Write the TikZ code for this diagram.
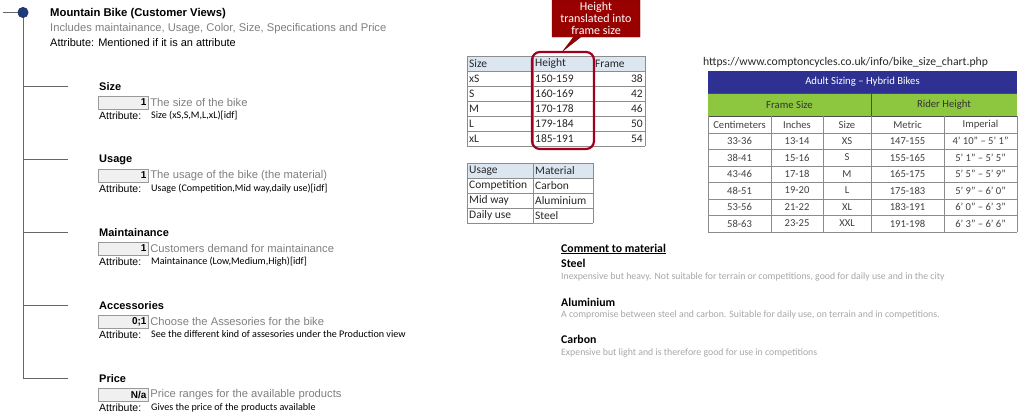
\documentclass[tikz,border=0pt]{standalone}
\usepackage{fontspec}
\setmainfont{Liberation Sans}
\newfontfamily\calfont{Carlito}
\usetikzlibrary{shapes.callouts}

\definecolor{rootblue}{HTML}{1F3A7A}
\definecolor{descgray}{HTML}{7F7F7F}
\definecolor{notegray}{HTML}{A6A6A6}
\definecolor{hdrblue}{HTML}{DCE6F1}
\definecolor{darkred}{HTML}{A0001E}
\definecolor{calloutred}{HTML}{990000}
\definecolor{chartblue}{HTML}{2E3192}
\definecolor{chartgreen}{HTML}{8DC63F}

\tikzset{
  every node/.style={inner sep=0pt},
  branch/.style={draw=black!60,line width=0.8pt},
  numbox/.style={draw=black!40,fill=black!6,minimum width=50pt,minimum height=12.5pt},
  desc/.style={anchor=west,text=descgray,font=\fontsize{11.2}{13}\selectfont},
  secttitle/.style={anchor=west,font=\bfseries\fontsize{11}{13}\selectfont},
  attrlbl/.style={anchor=west,font=\fontsize{10.5}{12}\selectfont},
  attrval/.style={anchor=west,font=\calfont\fontsize{10.1}{12}\selectfont},
  grid/.style={draw=black!45,line width=0.5pt},
  cell/.style={font=\calfont\fontsize{11.5}{13}\selectfont,text=black!85},
  chartcell/.style={font=\calfont\fontsize{10.6}{12}\selectfont,text=black!75},
  charthead/.style={font=\calfont\fontsize{10.7}{12}\selectfont},
  notehead/.style={anchor=west,font=\calfont\bfseries\fontsize{11.8}{14}\selectfont},
  notetext/.style={anchor=west,text=notegray,font=\calfont\fontsize{9.8}{12}\selectfont}
}

\begin{document}
\begin{tikzpicture}[x=1pt,y=-1pt]
\useasboundingbox (0,0) rectangle (1022,418);

% tree on the left
\node[circle,fill=rootblue,draw=rootblue!60!black,minimum size=10.5pt] (root) at (23,12.5) {};
\coordinate (rootin) at (3,12.5);
\draw[branch] (rootin) -- (root);

\node[anchor=west,font=\bfseries\fontsize{11.3}{13}\selectfont] (maintitle) at (50,14) {Mountain Bike (Customer Views)};
\node[desc] (maindesc) at (50,29) {Includes maintainance, Usage, Color, Size, Specifications and Price};
\node[anchor=west,font=\fontsize{11}{13}\selectfont] (mainattr) at (50,43) {Attribute: Mentioned if it is an attribute};

\foreach \n/\y/\title/\num/\desc/\attr in {
  size/87/Size/1/The size of the bike/{Size (xS,S,M,L,xL)[idf]},
  usage/160/Usage/1/{The usage of the bike (the material)}/{Usage (Competition,Mid way,daily use)[idf]},
  maint/233/Maintainance/1/Customers demand for maintainance/{Maintainance (Low,Medium,High)[idf]},
  acc/306/Accessories/0;1/Choose the Assesories for the bike/See the different kind of assesories under the Production view,
  price/379/Price/{N/a}/Price ranges for the available products/Gives the price of the products available}
{
  \coordinate (t-\n) at (23,\y-1);
  \coordinate (b-\n) at (68,\y-1);
  \draw[branch] (t-\n) -- (b-\n);
  \node[secttitle] (title-\n) at (99,\y) {\title};
  \node[numbox] (box-\n) at (123,\y+15.5) {};
  \node[anchor=east,font=\bfseries\fontsize{10}{11}\selectfont,xshift=-1.5pt] (num-\n) at (box-\n.east) {\num};
  \node[desc,xshift=2pt] (desc-\n) at (box-\n.east) {\desc};
  \node[attrlbl] (attr-\n) at (99,\y+28.5) {Attribute:};
  \node[attrval] (val-\n) at (151,\y+28.5) {\attr};
}
\draw[branch] (root) -- (t-price);

% size table
\fill[hdrblue] (467,56) rectangle (645,71);
\foreach \x in {467,533,593,645} \draw[grid] (\x,56) -- (\x,146);
\foreach \y in {56,71,...,146} \draw[grid] (467,\y) -- (645,\y);
\node[cell,anchor=west] (hd-size) at (469,63.5) {Size};
\node[cell,anchor=west] (hd-height) at (535,63.5) {Height};
\node[cell,anchor=west] (hd-frame) at (595,63.5) {Frame};
\foreach \s/\h/\f [count=\i] in {xS/150-159/38, S/160-169/42, M/170-178/46, L/179-184/50, xL/185-191/54} {
  \node[cell,anchor=west] (sz-\i) at (469,{63.5+15*\i}) {\s};
  \node[cell,anchor=west] (ht-\i) at (535,{63.5+15*\i}) {\h};
  \node[cell,anchor=east] (fr-\i) at (643,{63.5+15*\i}) {\f};
}

% highlight and callout
\node[draw=darkred,line width=2.2pt,rounded corners=8pt,minimum width=62pt,minimum height=97pt] (hcol) at (563,100.5) {};
\node[rectangle callout,fill=calloutred,draw=calloutred!70!black,text=white,
  minimum width=88pt,minimum height=37pt,align=center,
  font=\calfont\fontsize{12}{12}\selectfont,
  callout absolute pointer={(hcol.north)}] (note) at (596,18.5) {Height\\translated into\\frame size};

% material table
\fill[hdrblue] (467,163) rectangle (593,178);
\foreach \x in {467,533,593} \draw[grid] (\x,163) -- (\x,223);
\foreach \y in {163,178,...,223} \draw[grid] (467,\y) -- (593,\y);
\foreach \u/\m [count=\i from 0] in {Usage/Material, Competition/Carbon, Mid way/Aluminium, Daily use/Steel} {
  \node[cell,anchor=west] (use-\i) at (469,{170.5+15*\i}) {\u};
  \node[cell,anchor=west] (mat-\i) at (535,{170.5+15*\i}) {\m};
}

% chart from the web
\node[anchor=west,font=\calfont\fontsize{11.7}{14}\selectfont,text=black!85] (url) at (703,62) {https://www.comptoncycles.co.uk/info/bike\_size\_chart.php};
\fill[chartblue] (708,71) rectangle (1017,93);
\fill[chartgreen] (708,93) rectangle (1017,116);
\draw[black!70] (708,93) -- (1017,93);
\draw[black!70] (708,116) -- (1017,116);
\draw[black!70] (871,93) -- (871,116);
\foreach \x in {708,771,823,871,944,1017} \draw[grid] (\x,116) -- (\x,232);
\foreach \y in {133,149.5,...,232} \draw[grid] (708,\y) -- (1017,\y);
\node[charthead,text=white] (charttitle) at (862.5,82) {Adult Sizing – Hybrid Bikes};
\node[charthead,text=black!80] (framesize) at (789.5,104.5) {Frame Size};
\node[charthead,text=black!80] (riderheight) at (944,104.5) {Rider Height};
\foreach \a/\b/\c/\d/\e [count=\i from 0] in {
  Centimeters/Inches/Size/Metric/Imperial,
  33-36/13-14/XS/147-155/4’ 10” – 5’ 1”,
  38-41/15-16/S/155-165/5’ 1” – 5’ 5”,
  43-46/17-18/M/165-175/5’ 5” – 5’ 9”,
  48-51/19-20/L/175-183/5’ 9” – 6’ 0”,
  53-56/21-22/XL/183-191/6’ 0” – 6’ 3”,
  58-63/23-25/XXL/191-198/6’ 3” – 6’ 6”} {
  \node[chartcell] (cm-\i) at (739.5,{124.5+16.5*\i}) {\a};
  \node[chartcell] (in-\i) at (797,{124.5+16.5*\i}) {\b};
  \node[chartcell] (fs-\i) at (847,{124.5+16.5*\i}) {\c};
  \node[chartcell] (me-\i) at (907.5,{124.5+16.5*\i}) {\d};
  \node[chartcell] (im-\i) at (980.5,{124.5+16.5*\i}) {\e};
}

% comments
\node[notehead] (comment) at (561,249) {\underline{Comment to material}};
\node[notehead] (steel) at (561,263) {Steel};
\node[notetext] (steeltxt) at (561,277) {Inexpensive but heavy. Not suitable for terrain or competitions, good for daily use and in the city};
\node[notehead] (alu) at (561,302) {Aluminium};
\node[notetext] (alutxt) at (561,315) {A compromise between steel and carbon. Suitable for daily use, on terrain and in competitions.};
\node[notehead] (carbon) at (561,339) {Carbon};
\node[notetext] (carbontxt) at (561,353) {Expensive but light and is therefore good for use in competitions};
\end{tikzpicture}
\end{document}
